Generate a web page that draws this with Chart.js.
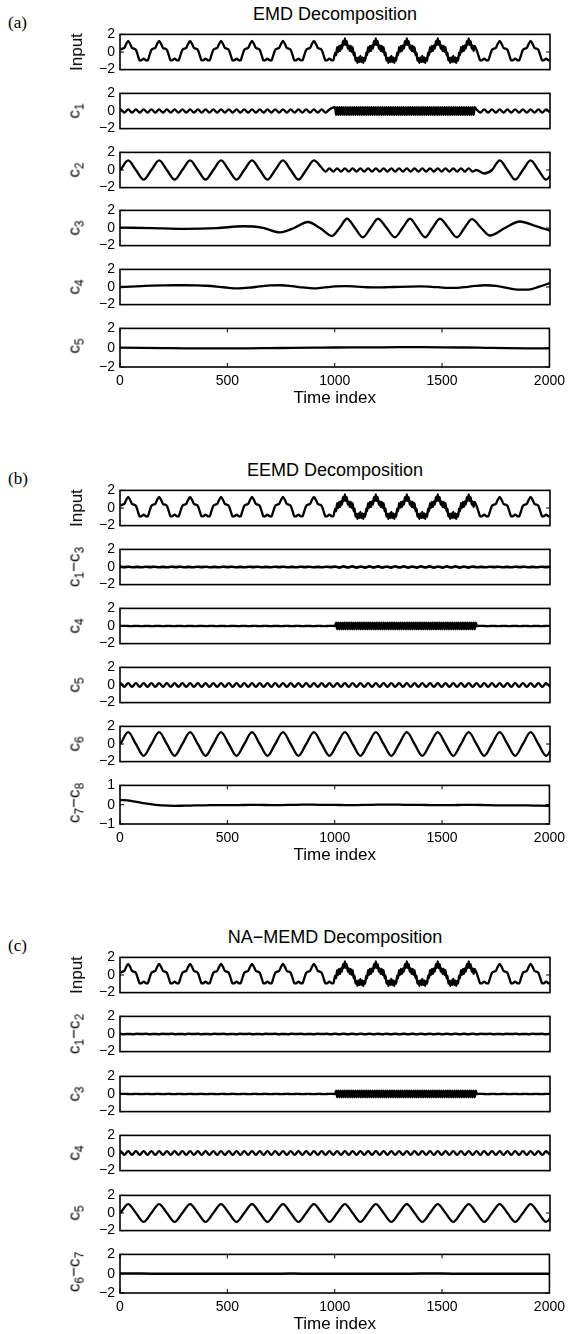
<!DOCTYPE html>
<html>
<head>
<meta charset="utf-8">
<script src="https://cdn.jsdelivr.net/npm/chart.js@4.4.0/dist/chart.umd.min.js"></script>
<style>
body { margin:0; background:#fff; width:571px; height:1334px; position:relative; overflow:hidden; font-family:"Liberation Sans", Arial, sans-serif; color:#000; }
.cell { position:absolute; left:0; width:571px; }
.ttl { position:absolute; left:120px; width:430px; text-align:center; font-size:18px; line-height:20px; }
.tag { position:absolute; left:8px; font-family:"Liberation Serif","DejaVu Serif",serif; font-size:17px; line-height:20px; }
.ylab { position:absolute; left:77px; font-size:17px; line-height:18px; white-space:nowrap; transform:translate(-50%,-50%) rotate(-90deg); }
.ylab sub { font-size:12px; vertical-align:-4px; }
</style>
</head>
<body>
<script>
// axis ticks
const xTicks = [0, 500, 1000, 1500, 2000];
const yTicks = [-2, 0, 2];
const yTicksSmall = [-1, 0, 1];

// input signal (same in all three panels), sampled every 9 steps, denser in the burst
const inputA = [.25,.38,.46,.92,1.25,.92,.46,.38,.25,-.38,-.96,-.92,-.75,-.92,-.96,-.38,
  .25,.38,.46,.92,1.25,.92,.46,.38,.25,-.38,-.96,-.92,-.75,-.92,-.96,-.38,
  .25,.38,.46,.92,1.25,.92,.46,.38,.25,-.38,-.96,-.92,-.75,-.92,-.96,-.38,
  .25,.38,.46,.92,1.25,.92,.46,.38,.25,-.38,-.96,-.92,-.75,-.92,-.96,-.38,
  .25,.38,.46,.92,1.25,.92,.46,.38,.25,-.38,-.96,-.92,-.75,-.92,-.96,-.38,
  .25,.38,.46,.92,1.25,.92,.46,.38,.25,-.38,-.96,-.92,-.75,-.92,-.96,-.38,
  .25,.38,.46,.92,1.25,.92,.46,.38,.25,-.38,-.96,-.92,-.75,-.92,-.96];
const inputB = [-.08,-.37,
  .55,.02,.68,.12,.76,.39,1.22,.79,1.55,.79,1.22,.39,.76,.12,.68,.02,.55,-.37,-.08,-.97,-.66,-1.24,-.62,-1.14,-.45,-1.14,-.62,-1.24,-.66,-.97,-.08,-.37,
  .55,.02,.68,.12,.76,.39,1.22,.79,1.55,.79,1.22,.39,.76,.12,.68,.02,.55,-.37,-.08,-.97,-.66,-1.24,-.62,-1.14,-.45,-1.14,-.62,-1.24,-.66,-.97,-.08,-.37,
  .55,.02,.68,.12,.76,.39,1.22,.79,1.55,.79,1.22,.39,.76,.12,.68,.02,.55,-.37,-.08,-.97,-.66,-1.24,-.62,-1.14,-.45,-1.14,-.62,-1.24,-.66,-.97,-.08,-.37,
  .55,.02,.68,.12,.76,.39,1.22,.79,1.55,.79,1.22,.39,.76,.12,.68,.02,.55,-.37,-.08,-.97,-.66,-1.24,-.62,-1.14,-.45,-1.14,-.62,-1.24,-.66,-.97,-.08,-.37,
  .55,.02,.68,.12,.76,.39,1.22,.79,1.55,.79,1.22,.39,.76,.12,.68];
const inputC = [.25,-.38,-.96,-.92,-.75,-.92,-.96,-.38,
  .25,.38,.46,.92,1.25,.92,.46,.38,.25,-.38,-.96,-.92,-.75,-.92,-.96,-.38,
  .25,.38,.46,.92,1.25,.92,.46,.38,.25,-.38,-.96,-.92,-.75,-.92,-.96];

// EMD modes
const emdC1Pre = [-.18,.18,-.18,.18,-.18,.18,-.18,.18,-.18,.18,-.18,.18,-.18,.18,-.18,.18,
  -.18,.18,-.18,.18,-.18,.18,-.18,.18,-.18,.18,-.18,.18,-.18,.18,-.18,.18,
  -.18,.18,-.18,.18,-.18,.18,-.18,.18,-.18,.18,-.18,.18,-.18,.18,-.18,.18,
  -.18,.18,-.18,.18,-.18,.18,-.18,.18];
const emdC1Burst = [.45,-.45,.45,-.45,.45,-.45,.45,-.45,.45,-.45,.45,-.45,.45,-.45,.45,-.45,
  .45,-.45,.45,-.45,.45,-.45,.45,-.45,.45,-.45,.45,-.45,.45,-.45,.45,-.45,
  .45,-.45,.45,-.45,.45,-.45,.45,-.45,.45,-.45,.45,-.45,.45,-.45,.45,-.45,
  .45,-.45,.45,-.45,.45,-.45,.45,-.45,.45,-.45,.45,-.45,.45,-.45,.45,-.45,
  .45,-.45,.45,-.45,.45,-.45,.45,-.45,.45,-.45,.45,-.45,.45,-.45,.45,-.45,
  .45,-.45,.45,-.45,.45,-.45,.45,-.45,.45,-.45,.45,-.45,.45,-.45,.45,-.45,
  .45,-.45,.45,-.45,.45,-.45,.45,-.45,.45,-.45,.45,-.45,.45,-.45,.45,-.45,
  .45,-.45,.45,-.45,.45,-.45,.45,-.45,.45,-.45,.45,-.45,.45,-.45,.45,-.45,.45,-.45,.45];
const emdC1Post = [.18,-.18,.18,-.18,.18,-.18,.18,-.18,.18,-.18,.18,-.18,.18,-.18,.18,-.18,.18,-.18,.18,-.18];
const emdC2A = [0,1.1,0,-1.1,0,1.1,0,-1.1,0,1.1,0,-1.1,0,1.1,0,-1.1,0,1.1,0,-1.1,0,1.1,0,-1.1,0,1.1,.25];
const emdC2B = [-.18,.18,-.18,.18,-.18,.18,-.18,.18,-.18,.18,-.18,.18,-.18,.18,-.18,.18,
  -.18,.18,-.18,.18,-.18,.18,-.18,.18,-.18,.18,-.18,.18,-.18,.18,-.18,.18,-.18,.18,-.18,.18,-.18,.18,-.18];
const emdC2C = [0,-.4,0,1.1,0,-1.1,0,1.1,0,-1.1,0];
const emdC3T = [0,150,300,450,572,660,744,810,874,930,986,1021,1056,1093,1130,1165,1200,1240,1279,1314,1349,1384,1419,1453,1488,1528,1567,1602,1637,1680,1721,1790,1860,1930,2000];
const emdC3Y = [.05,-.02,-.1,-.02,.2,.05,-.5,0,.68,0,-.9,0,1.05,0,-1.05,0,1.05,0,-1.05,0,1.05,0,-1.05,0,1.05,0,-1.05,0,1.0,0,-.85,0,.74,.25,-.3];
const emdC4 = [0,.05,.1,.15,.18,.2,.2,.18,.14,.05,-.08,-.15,-.08,.06,.18,.2,.1,-.05,-.15,-.05,.06,
  .1,.04,-.03,-.05,-.02,.02,.05,.06,.02,-.06,-.1,-.02,.12,.2,.12,-.1,-.3,-.3,.05,.45];
const emdC5 = [0,-.02,-.04,-.06,-.07,-.07,-.06,-.04,-.02,0,.02,.03,.04,.05,.05,.04,.02,-.01,-.04,-.06,-.07];

// EEMD modes
const eemdC13 = [.03,-.02,.03,-.03,.02,-.03,.03,-.02,.03,-.03,.02,-.03,.03,-.02,.03,-.03,.02,-.03,.03,-.02,
  .03,-.03,.02,-.03,.03,-.02,.03,-.03,.02,-.03,.03,-.02,.03,-.03,.02,-.03,.03,-.02,.03,-.03,
  .02,-.03,.03,-.02,.03,-.03,.02,-.03,.03,-.02,
  .05,-.06,.06,-.05,.06,-.06,.05,-.06,.06,-.05,.06,-.06,.05,-.06,.06,-.05,.06,-.06,.05,-.06,
  .06,-.05,.06,-.06,.05,-.06,.06,-.05,.06,-.06,.05,-.06,.05,
  -.03,.02,-.03,.03,-.02,.03,-.03,.02,-.03,.03,-.02,.03,-.03,.02,-.03,.03,-.02,.03];
const flatPre = [0,.02,-.02,.02,-.02,.02,-.02,.02,-.02,.02,-.02,.02,-.02,.02,-.02,.02,-.02,.02,-.02,.02,
  -.02,.02,-.02,.02,-.02,.02,-.02,.02,-.02,.02,-.02,.02,-.02,.02,-.02,.02,-.02,.02,-.02,.02,0];
const burstMode = [.38,-.38,.38,-.38,.38,-.38,.38,-.38,.38,-.38,.38,-.38,.38,-.38,.38,-.38,
  .38,-.38,.38,-.38,.38,-.38,.38,-.38,.38,-.38,.38,-.38,.38,-.38,.38,-.38,
  .38,-.38,.38,-.38,.38,-.38,.38,-.38,.38,-.38,.38,-.38,.38,-.38,.38,-.38,
  .38,-.38,.38,-.38,.38,-.38,.38,-.38,.38,-.38,.38,-.38,.38,-.38,.38,-.38,
  .38,-.38,.38,-.38,.38,-.38,.38,-.38,.38,-.38,.38,-.38,.38,-.38,.38,-.38,
  .38,-.38,.38,-.38,.38,-.38,.38,-.38,.38,-.38,.38,-.38,.38,-.38,.38,-.38,
  .38,-.38,.38,-.38,.38,-.38,.38,-.38,.38,-.38,.38,-.38,.38,-.38,.38,-.38,
  .38,-.38,.38,-.38,.38,-.38,.38,-.38,.38,-.38,.38,-.38,.38,-.38,.38,-.38,.38,-.38,.38];
const flatPost = [0,.02,-.02,.02,-.02,.02,-.02,.02,-.02,.02,-.02,.02,-.02,.02,0];
const harmonicMode = [-.22,.22,-.22,.22,-.22,.22,-.22,.22,-.22,.22,-.22,.22,-.22,.22,-.22,.22,
  -.22,.22,-.22,.22,-.22,.22,-.22,.22,-.22,.22,-.22,.22,-.22,.22,-.22,.22,
  -.22,.22,-.22,.22,-.22,.22,-.22,.22,-.22,.22,-.22,.22,-.22,.22,-.22,.22,
  -.22,.22,-.22,.22,-.22,.22,-.22,.22,-.22,.22,-.22,.22,-.22,.22,-.22,.22,
  -.22,.22,-.22,.22,-.22,.22,-.22,.22,-.22,.22,-.22,.22,-.22,.22,-.22,.22,
  -.22,.22,-.22,.22,-.22,.22,-.22,.22,-.22,.22,-.22,.22,-.22,.22,-.22,.22,
  -.22,.22,-.22,.22,-.22,.22,-.22,.22,-.22,.22,-.22,.22,-.22,.22,-.22,.22,-.22];
const eemdC6 = [0,1.35,0,-1.35,0,1.35,0,-1.35,0,1.35,0,-1.35,0,1.35,0,-1.35,0,1.35,0,-1.35,0,1.35,0,-1.35,0,1.35,0,-1.35,
  0,1.35,0,-1.35,0,1.35,0,-1.35,0,1.35,0,-1.35,0,1.35,0,-1.35,0,1.35,0,-1.35,0,1.35,0,-1.35,0,1.35,0,-1.35,0];
const eemdC78 = [.25,.2,.1,.02,-.04,-.06,-.05,-.04,-.03,-.02,-.02,-.02,-.01,-.01,-.02,-.02,-.01,0,0,-.01,-.01,
  -.02,-.02,-.01,0,0,0,-.01,-.01,-.02,-.02,-.02,-.01,-.01,-.02,-.03,-.03,-.03,-.04,-.05,-.06];

// NA-MEMD modes
const naC12 = [.02,-.02,.01,-.02,.02,-.01,.02,-.02,.01,-.02,.02,-.01,.02,-.02,.01,-.02,.02,-.01,.02,-.02,
  .01,-.02,.02,-.01,.02,-.02,.01,-.02,.02,-.01,.02,-.02,.01,-.02,.02,-.01,.02,-.02,.01,-.02,
  .02,-.01,.02,-.02,.01,-.02,.02,-.01,.02,-.02,
  .03,-.03,.02,-.03,.03,-.02,.03,-.03,.02,-.03,.03,-.02,.03,-.03,.02,-.03,.03,-.02,.03,-.03,
  .02,-.03,.03,-.02,.03,-.03,.02,-.03,.03,-.02,.03,-.03,.02,
  -.02,.02,-.01,.02,-.02,.01,-.02,.02,-.01,.02,-.02,.01,-.02,.02,-.01,.02,-.02,.01];
const naC5 = [0,1,0,-1,0,1,0,-1,0,1,0,-1,0,1,0,-1,0,1,0,-1,0,1,0,-1,0,1,0,-1,
  0,1,0,-1,0,1,0,-1,0,1,0,-1,0,1,0,-1,0,1,0,-1,0,1,0,-1,0,1,0,-1,0];
const naC67 = [.01,.01,0,0,-.01,-.01,0,0,.01,0,0,-.01,0,0,.01,.01,0,0,-.01,-.01,0];

const S = (t0, dt, ys) => ys.map((y, i) => ({x: t0 + i * dt, y}));
const P = (ts, ys) => ts.map((t, i) => ({x: t, y: ys[i]}));
const inputSeries = () => [...S(2, 9, inputA), ...S(1001, 4.5, inputB), ...S(1658, 9, inputC)];
const burstSeries = () => [...S(0, 25, flatPre), ...S(1005, 5, burstMode), ...S(1660, 25, flatPost)];

const panels = [
  {tag: '(a)', title: 'EMD Decomposition', top: 31, pitch: 58.8, rows: [
    {label: 'Input', data: inputSeries()},
    {label: 'c<sub>1</sub>', data: [...S(-16, 18, emdC1Pre), ...S(1000, 5, emdC1Burst), ...S(1658, 18, emdC1Post)]},
    {label: 'c<sub>2</sub>', data: [...S(2, 36, emdC2A), ...S(956, 18, emdC2B), ...S(1658, 36, emdC2C)]},
    {label: 'c<sub>3</sub>', data: P(emdC3T, emdC3Y)},
    {label: 'c<sub>4</sub>', data: S(0, 50, emdC4)},
    {label: 'c<sub>5</sub>', data: S(0, 100, emdC5)}
  ]},
  {tag: '(b)', title: 'EEMD Decomposition', top: 487, pitch: 59, rows: [
    {label: 'Input', data: inputSeries()},
    {label: 'c<sub>1</sub>\u2212c<sub>3</sub>', data: S(0, 20, eemdC13), lw: 2.7},
    {label: 'c<sub>4</sub>', data: burstSeries()},
    {label: 'c<sub>5</sub>', data: S(-16, 18, harmonicMode)},
    {label: 'c<sub>6</sub>', data: S(2, 36, eemdC6)},
    {label: 'c<sub>7</sub>\u2212c<sub>8</sub>', data: S(0, 50, eemdC78), small: true}
  ]},
  {tag: '(c)', title: 'NA\u2212MEMD Decomposition', top: 954, pitch: 59.4, rows: [
    {label: 'Input', data: inputSeries()},
    {label: 'c<sub>1</sub>\u2212c<sub>2</sub>', data: S(0, 20, naC12), lw: 2.5},
    {label: 'c<sub>3</sub>', data: burstSeries()},
    {label: 'c<sub>4</sub>', data: S(-16, 18, harmonicMode)},
    {label: 'c<sub>5</sub>', data: S(2, 36, naC5)},
    {label: 'c<sub>6</sub>\u2212c<sub>7</sub>', data: S(0, 100, naC67), lw: 2.5}
  ]}
];

const BOX_H = 42, PAD = 10, XAXIS_H = 44, LEFT = 120, RIGHT_GAP = 21;
const FONT = '"Liberation Sans", Arial, sans-serif';

// box outline and inward tick marks, matlab style
const framePlugin = {
  id: 'frame',
  afterDatasetsDraw(chart, args, opts) {
    const {ctx, chartArea: a, scales} = chart;
    ctx.save();
    ctx.strokeStyle = '#000';
    ctx.lineWidth = 1;
    ctx.beginPath();
    opts.yt.forEach(v => {
      const py = scales.y.getPixelForValue(v);
      ctx.moveTo(a.left, py); ctx.lineTo(a.left + 4, py);
      ctx.moveTo(a.right - 4, py); ctx.lineTo(a.right, py);
    });
    if (opts.last) {
      xTicks.forEach(v => {
        const px = scales.x.getPixelForValue(v);
        ctx.moveTo(px, a.top); ctx.lineTo(px, a.top + 4);
        ctx.moveTo(px, a.bottom - 4); ctx.lineTo(px, a.bottom);
      });
    }
    ctx.stroke();
    ctx.lineWidth = 1.6;
    ctx.strokeRect(a.left, a.top, a.right - a.left, a.bottom - a.top);
    ctx.restore();
  }
};

function addDiv(cls, html, top) {
  const d = document.createElement('div');
  d.className = cls;
  d.innerHTML = html;
  d.style.top = top + 'px';
  document.body.appendChild(d);
  return d;
}

panels.forEach(p => {
  addDiv('ttl', p.title, p.top - 27);
  addDiv('tag', p.tag, p.top - 18);
  p.rows.forEach((r, i) => {
    const top = Math.round(p.top + i * p.pitch);
    const last = i === p.rows.length - 1;
    const yt = r.small ? yTicksSmall : yTicks;
    const h = BOX_H + PAD * 2 + (last ? XAXIS_H : 0);
    const wrap = addDiv('cell', '', top - PAD);
    wrap.style.height = h + 'px';
    const cv = document.createElement('canvas');
    cv.width = 571; cv.height = h;
    wrap.appendChild(cv);
    addDiv('ylab', r.label, top + BOX_H / 2);

    new Chart(cv, {
      type: 'line',
      data: {datasets: [{
        data: r.data, borderColor: '#000', borderWidth: r.lw || 2.3, pointRadius: 0,
        cubicInterpolationMode: 'monotone', tension: 0.4, clip: 0, fill: false
      }]},
      options: {
        responsive: false, animation: false, events: [], parsing: false,
        layout: {padding: {left: 0, right: RIGHT_GAP, top: PAD, bottom: PAD}},
        plugins: {legend: {display: false}, tooltip: {enabled: false}, frame: {yt, last}},
        scales: {
          x: {
            type: 'linear', min: 0, max: 2000, display: last,
            afterBuildTicks: s => { s.ticks = xTicks.map(v => ({value: v})); },
            afterFit: s => { s.height = last ? XAXIS_H : 0; },
            grid: {display: false, drawTicks: false}, border: {display: false},
            ticks: {padding: 6, color: '#000', maxRotation: 0, autoSkip: false, font: {size: 14, family: FONT},
              callback: v => String(v)},
            title: {display: true, text: 'Time index', color: '#000', padding: {top: 0, bottom: 2}, font: {size: 17, family: FONT}}
          },
          y: {
            type: 'linear', min: yt[0], max: yt[2],
            afterBuildTicks: s => { s.ticks = yt.map(v => ({value: v})); },
            afterFit: s => { s.width = LEFT; },
            grid: {display: false, drawTicks: false}, border: {display: false},
            ticks: {padding: 5, color: '#000', autoSkip: false, font: {size: 14, family: FONT},
              callback: v => String(v).replace('-', '\u2212')}
          }
        }
      },
      plugins: [framePlugin]
    });
  });
});
</script>
</body>
</html>
